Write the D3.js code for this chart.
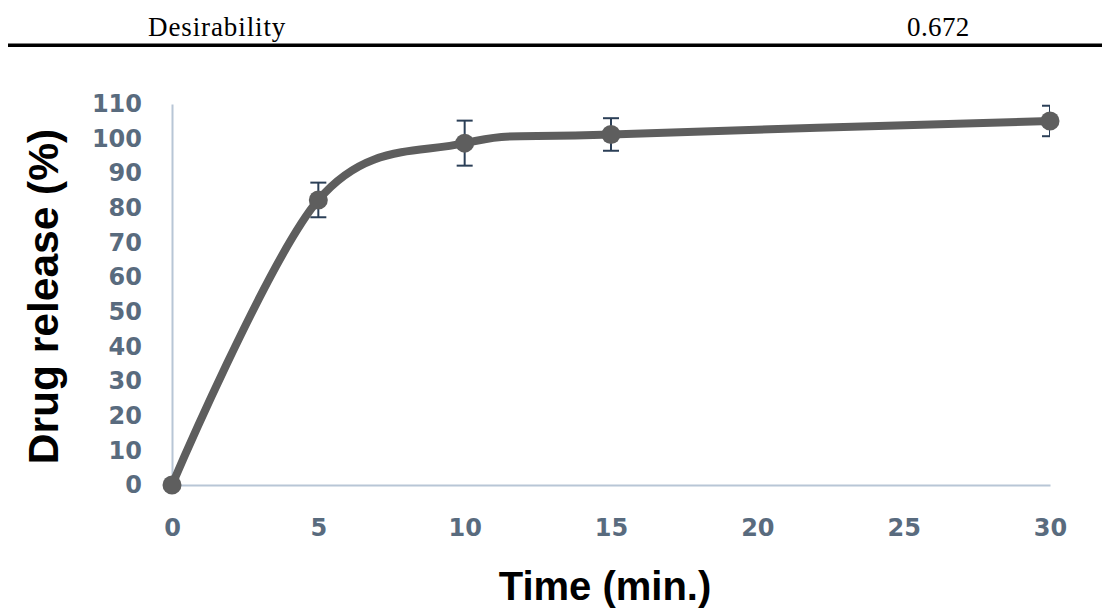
<!DOCTYPE html>
<html>
<head>
<meta charset="utf-8">
<script src="https://cdn.jsdelivr.net/npm/d3@7"></script>
<style>
  body { margin: 0; background: #fff; }
  svg { display: block; }
</style>
</head>
<body>
<svg id="chart"></svg>
<script>
// values (Excel-style category line chart, smoothed)
const tickLabels = ["0", "5", "10", "15", "20", "25", "30"]
const times = ["0", "5", "10", "15", "30"]
const release = [0, 82.3, 98.7, 101.2, 105.1]
const errors = [0, 5, 6.5, 4.7, 4.4]
const yTicks = [0, 10, 20, 30, 40, 50, 60, 70, 80, 90, 100, 110]

const header = ["Desirability", "0.672"]

const width = 1102
const height = 610
const margin = {top: 104, right: 52, bottom: 125, left: 172}

const svg = d3.select("#chart")
  .attr("width", width)
  .attr("height", height)

// table row on top of the figure
svg.append("text")
  .attr("x", 148).attr("y", 36)
  .attr("font-family", "Liberation Serif, serif")
  .attr("font-size", 27)
  .attr("letter-spacing", 0.9)
  .text(header[0])

svg.append("text")
  .attr("x", 907).attr("y", 36)
  .attr("font-family", "Liberation Serif, serif")
  .attr("font-size", 27)
  .attr("letter-spacing", 0.4)
  .text(header[1])

svg.append("rect")
  .attr("x", 8).attr("y", 43.5)
  .attr("width", width - 8).attr("height", 3.5)
  .attr("fill", "#000")

let x = d3.scalePoint()
  .domain(tickLabels)
  .range([margin.left, width - margin.right])

let y = d3.scaleLinear()
  .domain([0, 110])
  .range([height - margin.bottom, margin.top])

const tickFont = "DejaVu Sans, Verdana, sans-serif"
const tickColor = "#596b7e"
const axisColor = "#b8c6d6"

// y axis
const yAxis = g => g
  .attr("transform", `translate(${margin.left},0)`)
  .call(d3.axisLeft(y).tickValues(yTicks).tickSize(0).tickPadding(30))
  .call(g => g.select(".domain").attr("stroke", axisColor).attr("stroke-width", 2))
  .call(g => g.selectAll("text")
    .attr("font-family", tickFont)
    .attr("font-weight", "bold")
    .attr("font-size", 24)
    .attr("fill", tickColor))

// x axis
const xAxis = g => g
  .attr("transform", `translate(0,${height - margin.bottom})`)
  .call(d3.axisBottom(x).tickSize(0).tickPadding(34))
  .call(g => g.select(".domain").attr("stroke", axisColor).attr("stroke-width", 2))
  .call(g => g.selectAll("text")
    .attr("font-family", tickFont)
    .attr("font-weight", "bold")
    .attr("font-size", 24)
    .attr("fill", tickColor))

svg.append("g").call(xAxis)
svg.append("g").call(yAxis)

// axis titles
svg.append("text")
  .attr("transform", `translate(58,${(y(0) + y(110)) / 2 + 2}) rotate(-90)`)
  .attr("text-anchor", "middle")
  .attr("font-family", "Liberation Sans, Arial, sans-serif")
  .attr("font-weight", "bold")
  .attr("font-size", 42.5)
  .text("Drug release (%)")

svg.append("text")
  .attr("x", 605).attr("y", 600)
  .attr("text-anchor", "middle")
  .attr("font-family", "Liberation Sans, Arial, sans-serif")
  .attr("font-weight", "bold")
  .attr("font-size", 40)
  .text("Time (min.)")

const data = times.map((t, i) => ({t: t, v: release[i], e: errors[i]}))

// error bars, clipped to the plot area like the original
svg.append("clipPath").attr("id", "plot")
  .append("rect")
  .attr("x", margin.left).attr("y", margin.top - 6)
  .attr("width", width - margin.right - margin.left)
  .attr("height", height - margin.bottom - margin.top + 12)

const errG = svg.append("g")
  .attr("clip-path", "url(#plot)")
  .attr("stroke", "#2b3f57")
  .attr("stroke-width", 2)
  .attr("fill", "none")
  .selectAll("g")
  .data(data.filter(d => d.e > 0))
  .join("g")

errG.append("line")
  .attr("x1", d => x(d.t)).attr("x2", d => x(d.t))
  .attr("y1", d => y(d.v + d.e)).attr("y2", d => y(d.v - d.e))
errG.append("line")
  .attr("x1", d => x(d.t) - 8).attr("x2", d => x(d.t) + 8)
  .attr("y1", d => y(d.v + d.e)).attr("y2", d => y(d.v + d.e))
errG.append("line")
  .attr("x1", d => x(d.t) - 8).attr("x2", d => x(d.t) + 8)
  .attr("y1", d => y(d.v - d.e)).attr("y2", d => y(d.v - d.e))

// smoothed series line
const line = d3.line()
  .x(d => x(d.t))
  .y(d => y(d.v))
  .curve(d3.curveCardinal.tension(0))

svg.append("path")
  .datum(data)
  .attr("fill", "none")
  .attr("stroke", "#5e5e5e")
  .attr("stroke-width", 8)
  .attr("stroke-linejoin", "round")
  .attr("stroke-linecap", "round")
  .attr("d", line)

svg.append("g")
  .selectAll("circle")
  .data(data)
  .join("circle")
  .attr("cx", d => x(d.t))
  .attr("cy", d => y(d.v))
  .attr("r", 9.5)
  .attr("fill", "#5e5e5e")
</script>
</body>
</html>
